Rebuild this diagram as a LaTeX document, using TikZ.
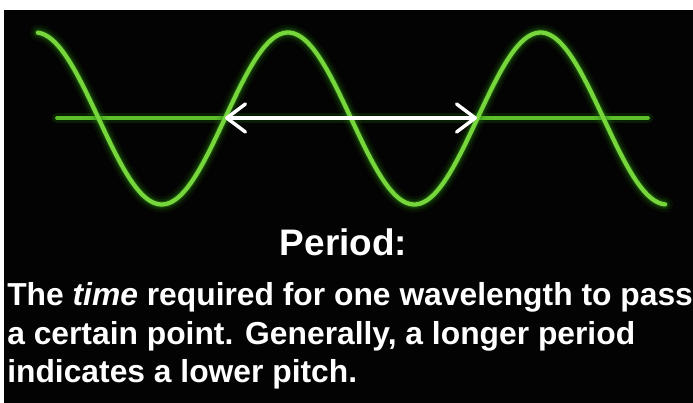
\documentclass[tikz,border=0pt]{standalone}
\usepackage{fontspec}
\setmainfont{Liberation Sans}
\usepackage{xcolor}
\usepackage{tikz}
\usetikzlibrary{arrows.meta,positioning,calc}
\definecolor{scopebg}{HTML}{020302}
\definecolor{tracegreen}{HTML}{76D63C}
\definecolor{traceglow}{HTML}{2E8A14}
\definecolor{axisgreen}{HTML}{5DC02B}
\tikzset{
  trace/.style={line width=3.2pt, tracegreen, line cap=round},
  glowline/.style={line width=#1, traceglow, line cap=round},
  glowline/.default=8pt,
  axisline/.style={line width=2.8pt, axisgreen, line cap=round},
  periodarrow/.style={
    {Straight Barb[length=14pt,width=21pt,line width=2.6pt,round]}-{Straight Barb[length=14pt,width=21pt,line width=2.6pt,round]},
    white, line width=2.6pt
  },
  titletext/.style={
    font=\fontsize{27.7pt}{33pt}\selectfont\bfseries,
    text=white, inner sep=0pt
  },
  bodytext/.style={
    font=\fontsize{23.85pt}{29.25pt}\selectfont\bfseries,
    text=white, inner sep=0pt, anchor=base west
  },
}

\begin{document}
\begin{tikzpicture}[x=0.75pt, y=-0.75pt]

\useasboundingbox (0,0) rectangle (693,403);

% SCREEN
\fill[white] (0,0) rectangle (693,403);
\fill[scopebg] (4,10) rectangle (693,403);

% AXIS (with glow)
\coordinate (axisL) at (57,118);
\coordinate (axisR) at (648,118);
\draw[glowline=8pt, opacity=0.2] (axisL) -- (axisR);
\draw[axisline] (axisL) -- (axisR);

% WAVE (glow first, then the bright trace)
\foreach \w/\o in {12pt/0.10, 8pt/0.18, 5pt/0.35}
  \draw[glowline=\w, opacity=\o] plot[domain=38:665, samples=180, smooth]
    (\x, {118.5-86*cos(1.42574*(\x-35.5))});
\draw[trace] plot[domain=38:665, samples=180, smooth]
  (\x, {118.5-86*cos(1.42574*(\x-35.5))});

% PERIOD ARROW between two upward crossings
\coordinate (crossL) at (225,118);
\coordinate (crossR) at (477,118);
\draw[periodarrow] (crossL) -- (crossR);

% Label
\node[titletext, anchor=base] (title) at (343.5,255) {Period:};

% Explanation
\node[bodytext] (line1) at (7,305) {The \textit{time} required for one wavelength to pass};
\node[bodytext] (line2) at ([yshift=-29.25pt]line1.base west) {a certain point. Generally, a longer period};
\node[bodytext] (line3) at ([yshift=-28.5pt]line2.base west) {indicates a lower pitch.};

\end{tikzpicture}
\end{document}
